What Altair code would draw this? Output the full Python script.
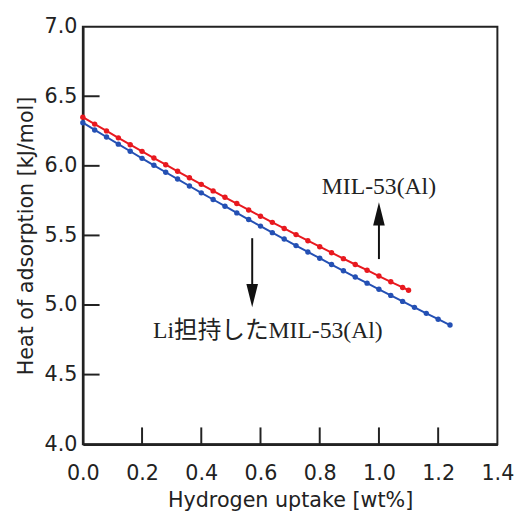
import altair as alt
import pandas as pd

# MIL-53(Al)
red_x = [0.00, 0.04, 0.08, 0.12, 0.16, 0.20, 0.24, 0.28, 0.32, 0.36, 0.40, 0.44, 0.48, 0.52,
         0.56, 0.60, 0.64, 0.68, 0.72, 0.76, 0.80, 0.84, 0.88, 0.92, 0.96, 1.00, 1.04, 1.08, 1.10]
red_y = [6.350, 6.300, 6.251, 6.201, 6.152, 6.104, 6.056, 6.008, 5.961, 5.914, 5.867, 5.820,
         5.774, 5.729, 5.683, 5.638, 5.594, 5.550, 5.506, 5.462, 5.419, 5.376, 5.333, 5.291,
         5.250, 5.208, 5.167, 5.126, 5.106]
# Li担持したMIL-53(Al)
blue_x = [0.00, 0.04, 0.08, 0.12, 0.16, 0.20, 0.24, 0.28, 0.32, 0.36, 0.40, 0.44, 0.48, 0.52,
          0.56, 0.60, 0.64, 0.68, 0.72, 0.76, 0.80, 0.84, 0.88, 0.92, 0.96, 1.00, 1.04, 1.08,
          1.12, 1.16, 1.20, 1.24]
blue_y = [6.310, 6.258, 6.207, 6.156, 6.105, 6.054, 6.004, 5.954, 5.905, 5.855, 5.806, 5.758,
          5.710, 5.662, 5.614, 5.567, 5.520, 5.474, 5.427, 5.381, 5.336, 5.291, 5.246, 5.201,
          5.157, 5.113, 5.069, 5.026, 4.983, 4.940, 4.898, 4.856]

series_names = ["MIL-53(Al)", "Li担持したMIL-53(Al)"]
series_colors = ["#e8191f", "#2450b4"]

x_ticks = [0.0, 0.2, 0.4, 0.6, 0.8, 1.0, 1.2, 1.4]
y_ticks = [4.0, 4.5, 5.0, 5.5, 6.0, 6.5, 7.0]
x_inner_ticks = [0.2, 0.4, 0.6, 0.8, 1.0, 1.2]
y_inner_ticks = [4.5, 5.0, 5.5, 6.0, 6.5]

label_text = ["MIL-53(Al)", "Li担持したMIL-53(Al)"]
label_x = [1.0, 0.625]
label_y = [5.846, 4.813]

arrow_x = [1.0, 0.572]
arrow_tail = [5.33, 5.48]
arrow_shaft_end = [5.70, 5.10]
arrow_head_y = [5.655, 5.068]

df = pd.concat([
    pd.DataFrame({"x": red_x, "y": red_y, "s": series_names[0]}),
    pd.DataFrame({"x": blue_x, "y": blue_y, "s": series_names[1]}),
])

W, H = 421, 424
TL = 17  # inward tick length in px
xs = alt.Scale(domain=[0, 1.4], nice=False, zero=False)
ys = alt.Scale(domain=[4, 7], nice=False, zero=False)

lines = alt.Chart(df).mark_line(
    strokeWidth=2, point=alt.OverlayMarkDef(filled=True, size=30)
).encode(
    x=alt.X("x:Q", scale=xs, axis=alt.Axis(
        values=x_ticks, format=".1f", title="Hydrogen uptake [wt%]",
        labelFlush=False, labelOverlap=False, ticks=False, grid=False,
        labelPadding=19, titlePadding=6)),
    y=alt.Y("y:Q", scale=ys, axis=alt.Axis(
        values=y_ticks, format=".1f", title="Heat of adsorption [kJ/mol]",
        labelFlush=False, labelOverlap=False, ticks=False, grid=False,
        labelPadding=6, titlePadding=8)),
    color=alt.Color("s:N", scale=alt.Scale(domain=series_names, range=series_colors), legend=None),
    order=alt.Order("x:Q"),
)

# inward ticks as line segments (tick length converted to data units)
tick_df = pd.concat([
    pd.DataFrame({"tx1": x_inner_ticks, "tx2": x_inner_ticks,
                  "ty1": 4.0, "ty2": 4.0 + TL / H * 3.0}),
    pd.DataFrame({"tx1": 0.0, "tx2": TL / W * 1.4,
                  "ty1": y_inner_ticks, "ty2": y_inner_ticks}),
], ignore_index=True)
ticks = alt.Chart(tick_df).mark_rule(color="#222", strokeWidth=2).encode(
    x=alt.X("tx1:Q", scale=xs), x2="tx2:Q",
    y=alt.Y("ty1:Q", scale=ys), y2="ty2:Q")

arr = pd.DataFrame({"x": arrow_x, "y1": arrow_tail, "y2": arrow_shaft_end, "hy": arrow_head_y,
                    "shape": ["M-0.5,1L0.5,1L0,-1Z", "M-0.5,-1L0.5,-1L0,1Z"]})
shafts = alt.Chart(arr).mark_rule(color="#111", strokeWidth=2).encode(
    x=alt.X("x:Q", scale=xs), y=alt.Y("y1:Q", scale=ys), y2="y2:Q")
heads = alt.Chart(arr).mark_point(filled=True, color="#111", opacity=1, size=560).encode(
    x=alt.X("x:Q", scale=xs), y=alt.Y("hy:Q", scale=ys),
    shape=alt.Shape("shape:N", scale=None))

labels = alt.Chart(pd.DataFrame({"t": label_text, "x": label_x, "y": label_y})).mark_text(
    font="Liberation Serif, Noto Sans CJK JP", fontSize=24, color="#222",
    align="center", baseline="middle").encode(
    x=alt.X("x:Q", scale=xs), y=alt.Y("y:Q", scale=ys), text="t:N")

chart = alt.layer(lines, shafts, heads, labels, ticks).properties(
    width=W, height=H,
    autosize=alt.AutoSizeParams(type="none"),
    padding={"left": 76, "top": 15, "right": 25, "bottom": 70},
).configure(background="white").configure_view(stroke="#222", strokeWidth=2).configure_axis(
    domainColor="#222", domainWidth=2.5,
    labelFont="DejaVu Sans", labelFontSize=21, labelColor="#222",
    titleFont="DejaVu Sans", titleFontSize=21, titleFontWeight="normal", titleColor="#222",
)

chart.save("out.html", embed_options={"renderer": "svg", "actions": False})
